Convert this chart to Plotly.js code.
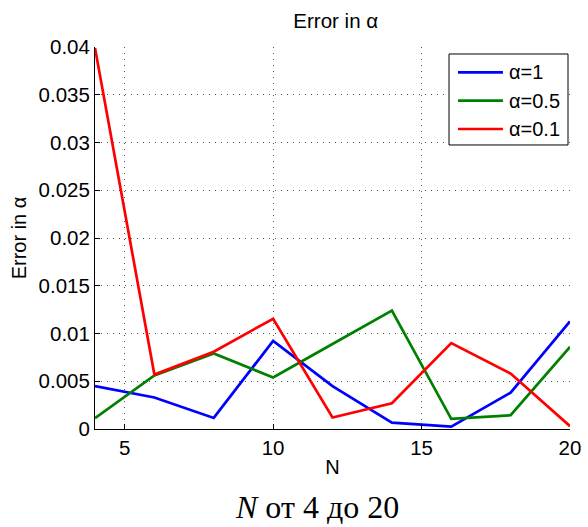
<!DOCTYPE html>
<html>
<head>
<meta charset="utf-8">
<script src="https://cdn.plot.ly/plotly-3.0.1.min.js"></script>
<style>html,body{margin:0;padding:0;background:#fff;}#chart{width:588px;height:527px;}</style>
</head>
<body>
<div id="chart"></div>
<script>
const N = [4, 6, 8, 10, 12, 14, 16, 18, 20];
const errAlpha1 = [0.0045, 0.0033, 0.00116, 0.00923, 0.0045, 0.00067, 0.00025, 0.0038, 0.01126];
const errAlpha05 = [0.00113, 0.0056, 0.0079, 0.0054, 0.0089, 0.0124, 0.00105, 0.00144, 0.0086];
const errAlpha01 = [0.0399, 0.0057, 0.0081, 0.01155, 0.0012, 0.0027, 0.0090, 0.0058, 0.0003];
const seriesNames = ['α=1', 'α=0.5', 'α=0.1'];
const yTickVals = [0, 0.005, 0.01, 0.015, 0.02, 0.025, 0.03, 0.035, 0.04];
const yTickText = ['0', '0.005', '0.01', '0.015', '0.02', '0.025', '0.03', '0.035', '0.04'];
const xTickVals = [5, 10, 15, 20];

const colors = ['#0000ff', '#008000', '#ff0000'];
const traces = [errAlpha1, errAlpha05, errAlpha01].map((y, i) => ({
  x: N, y: y, type: 'scatter', mode: 'lines', name: seriesNames[i], showlegend: false,
  line: {color: colors[i], width: 2.7}
}));

const font = 'Liberation Sans, Arial, sans-serif';

// manual legend (paper coordinates)
const legX0 = 0.7453, legX1 = 0.9958, legY0 = 0.7435, legY1 = 0.9817;
const legRowY = [0.9338, 0.8594, 0.7853];
const shapes = [{type: 'rect', xref: 'paper', yref: 'paper', x0: legX0, x1: legX1, y0: legY0, y1: legY1,
  line: {color: '#000', width: 1}, fillcolor: '#fff', layer: 'above'}];
const annotations = [];
seriesNames.forEach((nm, i) => {
  shapes.push({type: 'line', xref: 'paper', yref: 'paper', x0: 0.7642, x1: 0.8589, y0: legRowY[i], y1: legRowY[i],
    line: {color: colors[i], width: 2.7}, layer: 'above'});
  annotations.push({xref: 'paper', yref: 'paper', x: 0.8675, y: legRowY[i], xanchor: 'left', yanchor: 'middle',
    text: nm, showarrow: false, font: {family: font, size: 20, color: '#000'}});
});
annotations.push({
  xref: 'paper', yref: 'paper', x: 0.468, y: -0.2545, xanchor: 'center', yanchor: 'bottom', borderpad: 0,
  text: '<i>N</i> от 4 до 20', showarrow: false,
  font: {family: 'Liberation Serif, DejaVu Serif, serif', size: 32, color: '#000'}
});

const layout = {
  width: 588, height: 527,
  margin: {l: 95, r: 18, t: 47, b: 98},
  paper_bgcolor: '#fff', plot_bgcolor: '#fff',
  font: {family: font, color: '#000', size: 20},
  showlegend: false,
  title: {text: 'Error in α', font: {size: 20.5, family: font}, x: 0.571, xanchor: 'center', y: 0.96, yanchor: 'middle'},
  xaxis: {
    range: [4, 20], tickvals: xTickVals, ticks: 'inside', ticklen: 5, tickcolor: '#000',
    showline: true, linecolor: '#000', linewidth: 1, zeroline: false,
    showgrid: true, gridcolor: '#555', griddash: '1px,5px', gridwidth: 1,
    tickfont: {size: 20.5},
    title: {text: 'N', font: {size: 20}, standoff: 2}
  },
  yaxis: {
    range: [0, 0.04], tickvals: yTickVals, ticktext: yTickText, ticks: 'inside', ticklen: 5, tickcolor: '#000',
    showline: true, linecolor: '#000', linewidth: 1, zeroline: false,
    showgrid: true, gridcolor: '#555', griddash: '1px,5px', gridwidth: 1,
    tickfont: {size: 20.5},
    title: {text: 'Error in α', font: {size: 20}, standoff: 6}
  },
  shapes: shapes,
  annotations: annotations
};
Plotly.newPlot('chart', traces, layout, {displayModeBar: false, staticPlot: true});
</script>
</body>
</html>
